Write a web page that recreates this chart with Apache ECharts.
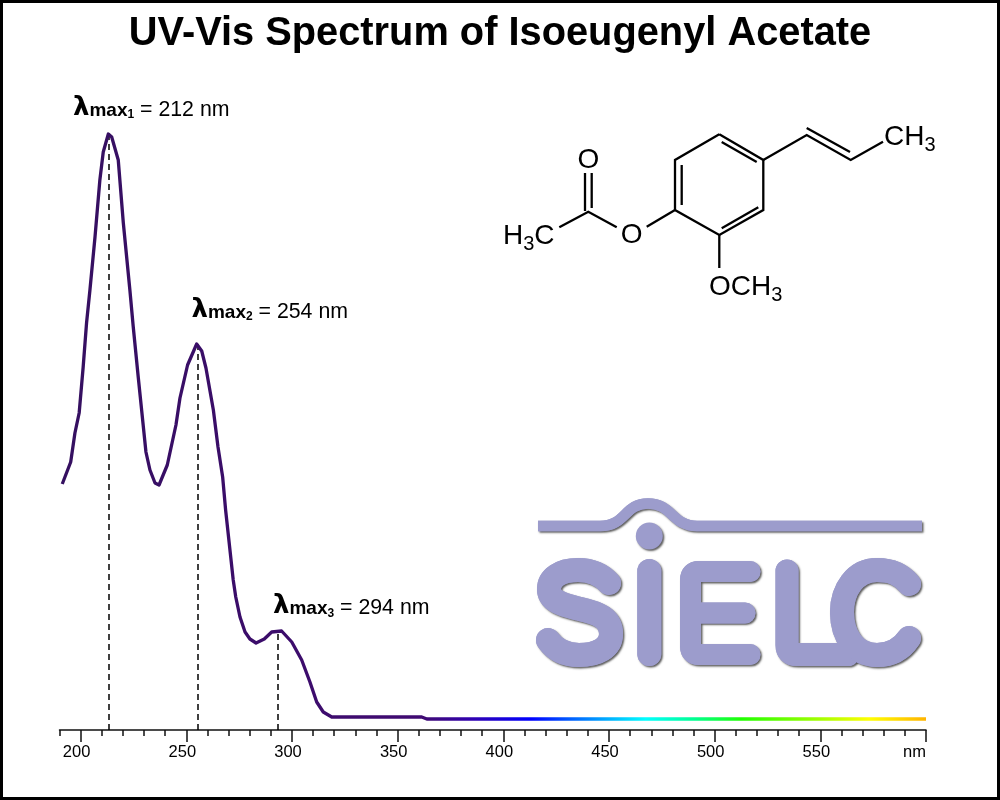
<!DOCTYPE html>
<html><head><meta charset="utf-8">
<style>html,body{margin:0;padding:0;background:#fff}#c{width:1000px;height:800px}</style>
<script src="https://cdn.jsdelivr.net/npm/echarts@6/dist/echarts.min.js"></script>
</head><body><div id="c"></div>
<script>
// wavelength (nm) and absorbance (arbitrary units)
const wavelengths = [191.3,195.3,197.3,199.3,201.2,202.8,204.4,206.8,209.1,210.7,213.1,214.7,217.8,220.2,223.3,224.9,227.3,230.9,232.8,235.2,237.1,241,245.1,247,250.6,254.9,257.3,259.3,262.8,265,267.2,268.6,272.2,273.4,275.4,277.8,280.1,283,286.9,290.4,295.1,299.9,304.6,308.5,311.7,314.8,318.8,361.4,363.8,600];
const absorbance = [246,268,297,317,363,407,440,493,550,578,596,593,570,507,440,403,352,278,260,247,245,265,305,332,365,386,379,362,320,283,253,220,150,133,113,98,91,87,91,98,99,88,70,48,28,18,13,13,11,11];
const tickValues = [200,250,300,350,400,450,500,550];
const peakPositions = [213.4,255.3,293.4];
const peakHeights = [596,386,99];
const peakLabels = ['212','254','294'];
const spectrumNm = [191.3,362,385,413,432,467,490,512,550,572,600];
const spectrumColors = ['#351060','#400a72','#3000b0','#0000ff','#0060ff','#00ffff','#00ff90','#20ff00','#a8ff00','#ffff00','#ffb000'];
const titleText = 'UV-Vis Spectrum of Isoeugenyl Acetate';

const logoColor = '#9c9ccc';
const logoPaths = [
 {w:10.6,d:'M538 526 L600 526 C626 526 624 503.5 648 503.5 C672 503.5 672 526 697 526 L922 526',cap:'butt'},
 {w:24,d:'M649.3 571 L649.3 654'},
 {w:24,d:'M609 583 C600 573 590 570 578 570 C560 570 549 578 549 589 C549 602 565 605 580 609 C598 613 611 618 611 634 C611 648 597 655 579 655 C565 655 555 650 548 640'},
 {w:21,d:'M750 571.5 L699 571.5 Q690.5 571.5 690.5 580 L690.5 646 Q690.5 654.5 699 654.5 L750 654.5 M690.5 613 L745 613'},
 {w:23,d:'M787 571 L787 645 Q787 654.5 797 654.5 L848 654.5'},
 {w:24,d:'M909 584 C900 573 890 570 877 570 C855 570 842 590 842 612 C842 636 855 655 877 655 C890 655 901 650 909 638'}
];
logoPaths.forEach((p,i)=>echarts.graphic.registerShape('logo'+i,echarts.graphic.extendPath(p.d,{})));
const bonds = [
 [[719.3,134.3],[763.3,160],[763.3,210],[719.3,235],[675,210],[675,160],[719.3,134.3]],
 [[721.7,142],[756.7,162]],[[681.7,165],[681.7,205]],[[721.7,228.3],[758.3,207.3]],
 [[763.3,160],[806.7,135],[850.7,160],[883,141.7]],[[806.7,128],[850,152]],
 [[719.3,235],[719.3,268]],[[675,210],[646.7,226.7]],[[616.7,227.3],[588.3,211.7],[559.3,227.3]],
 [[585,173],[585,211]],[[591.7,173],[591.7,208]]
];
function chem(x,y,parts,align){
  return {type:'text',x:x,y:y,style:{text:parts,align:align||'left',verticalAlign:'middle',fontFamily:'Liberation Sans',
    fill:'#000',rich:{n:{fontSize:28,fontFamily:'Liberation Sans',fill:'#000',lineHeight:30},s:{fontSize:20,fontFamily:'Liberation Sans',fill:'#000',lineHeight:20,padding:[16,0,0,0]}}}};
}
function peakLabel(x,y,i){
  return {type:'text',x:x,y:y,style:{text:'{l|λ}{m|max}{i|'+(i+1)+'}{v| = '+peakLabels[i]+' nm}',verticalAlign:'middle',
   rich:{l:{fontSize:26,fontWeight:'bold',fontFamily:'DejaVu Sans',fill:'#000',lineHeight:26},
    m:{fontSize:19,fontWeight:'bold',fontFamily:'Liberation Sans',fill:'#000',padding:[5,0,0,0]},
    i:{fontSize:12,fontWeight:'bold',fontFamily:'Liberation Sans',fill:'#000',padding:[14,0,0,0]},
    v:{fontSize:21.3,fontFamily:'Liberation Sans',fill:'#000',padding:[4,0,0,0]}}}};
}
const logoBase={fill:null,stroke:logoColor,lineJoin:'round'};
const logoShadow={shadowColor:'rgba(40,40,40,0.75)',shadowBlur:2,shadowOffsetX:1.5,shadowOffsetY:1.5};
const graphics = [
 {type:'rect',shape:{x:1.5,y:1.5,width:997,height:797},style:{fill:null,stroke:'#000',lineWidth:3},z:100},
 {type:'text',x:500,y:34,style:{text:titleText,align:'center',verticalAlign:'middle',fontSize:39.8,fontWeight:'bold',fontFamily:'Liberation Sans',fill:'#000'}},
 peakLabel(73,108,0),peakLabel(191.5,310,1),peakLabel(273,606.5,2),
 ...bonds.map(p=>({type:'polyline',shape:{points:p},style:{stroke:'#000',lineWidth:2.3,fill:null,lineJoin:'miter'}})),
 chem(884,137,'{n|CH}{s|3}'),chem(709,287,'{n|OCH}{s|3}'),chem(503,236,'{n|H}{s|3}{n|C}'),
 chem(631.7,235,'{n|O}','center'),chem(588.3,160,'{n|O}','center'),
 ...logoPaths.map((p,i)=>({type:'logo'+i,style:Object.assign({},logoBase,logoShadow,{lineWidth:p.w,lineCap:p.cap||'round'})})),
 {type:'circle',shape:{cx:649.3,cy:536,r:13.5},style:Object.assign({fill:logoColor},logoShadow)},
 ...logoPaths.map((p,i)=>({type:'logo'+i,style:Object.assign({},logoBase,{lineWidth:p.w,lineCap:p.cap||'round'})}))
];
const xMin=190,xMax=600;
const x0=wavelengths[0];
const spectrumStops = spectrumNm.map((n,i)=>({offset:(n-x0)/(xMax-x0),color:spectrumColors[i]}));
const option = {
 backgroundColor:'#fff',animation:false,
 graphic:graphics,
 grid:{left:59.5,right:74,top:50,bottom:70,containLabel:false},
 xAxis:[
  {type:'value',min:xMin,max:xMax,interval:10,position:'bottom',splitLine:{show:false},
   axisLine:{show:true,onZero:false,lineStyle:{color:'#111',width:1.5}},
   axisTick:{show:true,length:6,lineStyle:{color:'#111',width:1.5}},axisLabel:{show:false}},
  {type:'value',min:xMin,max:xMax,position:'bottom',splitLine:{show:false},
   axisLine:{show:false,onZero:false},
   axisTick:{show:true,length:12,customValues:tickValues.concat([xMax]),lineStyle:{color:'#111',width:1.5}},
   axisLabel:{show:true,customValues:tickValues.concat([xMax]),alignMaxLabel:'right',margin:14,showMaxLabel:true,showMinLabel:true,
    formatter:v=>v===xMax?'{n|nm}':'{s|'+v+'}',
    rich:{s:{fontSize:16.5,fontFamily:'Liberation Sans',color:'#000',padding:[0,8,0,0]},n:{fontSize:16.5,fontFamily:'Liberation Sans',color:'#000'}}}}
 ],
 yAxis:{type:'value',min:0,max:680,show:false,splitLine:{show:false}},
 series:[{
  type:'line',xAxisIndex:0,showSymbol:false,smooth:false,clip:false,z:3,
  data:wavelengths.map((w,i)=>[w,absorbance[i]]),
  lineStyle:{width:3.3,join:'round',color:{type:'linear',x:0,y:0,x2:1,y2:0,colorStops:spectrumStops}},
  markLine:{silent:true,symbol:'none',label:{show:false},z:2,
   lineStyle:{type:[6,4],color:'#000',width:1.5},
   data:peakPositions.map((p,i)=>[{coord:[p,0]},{coord:[p,peakHeights[i]]}])}
 }]
};
echarts.init(document.getElementById('c'),null,{renderer:'canvas'}).setOption(option);
</script></body></html>
